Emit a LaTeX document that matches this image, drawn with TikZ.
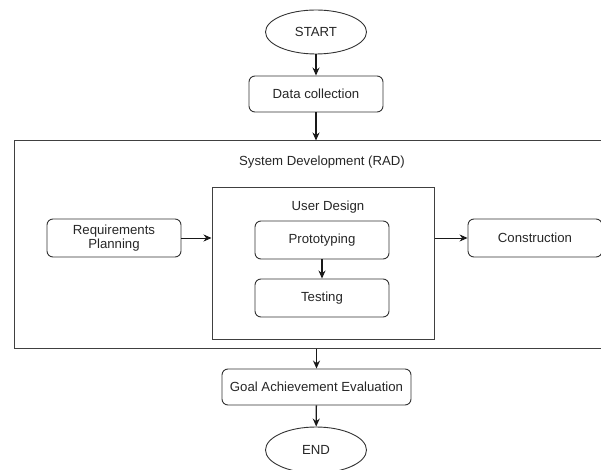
\documentclass[tikz,border=0pt]{standalone}
\usepackage{fontspec}
\setmainfont{Liberation Sans}
\usetikzlibrary{shapes.geometric,arrows.meta}

\begin{document}
\begin{tikzpicture}[x=1pt,y=-1pt,font=\fontsize{13.2}{15.5}\selectfont]
    % Node styles
    \tikzstyle{terminal} = [ellipse, draw=black!80, line width=0.9pt, minimum width=101pt, minimum height=44pt, text=black!85]
    \tikzstyle{process} = [rectangle, rounded corners=6pt, draw=black!80, line width=0.9pt, minimum width=134pt, minimum height=37pt, align=center, text=black!85]
    \tikzstyle{frame} = [rectangle, draw=black!75, line width=1pt, inner sep=0pt]
    \tikzstyle{title} = [text=black!85]
    \tikzstyle{arrow} = [-{Stealth[length=8pt,width=7pt]}, line width=1.3pt, black!90]
    \tikzstyle{thinarrow} = [arrow, line width=0.9pt]

    \useasboundingbox (0,0) rectangle (601,470);
    \clip (0,0) rectangle (601,470);

    % Frames
    \node (sysdev) at (322,244.5) [frame, minimum width=616pt, minimum height=207pt] {};
    \node (userdesign) at (323,263.5) [frame, minimum width=222pt, minimum height=151pt] {};
    \node (sysdev_title) at (322,162) [title] {System Development (RAD)};
    \node (userdesign_title) at (328,207) [title] {User Design};

    % Nodes
    \node (start) at (316,32) [terminal] {START};
    \node (data) at (316,94) [process, minimum height=36pt] {Data collection};
    \node (req) at (114,238) [process, minimum height=38pt] {Requirements\\[-2pt]Planning};
    \node (proto) at (322,240) [process, minimum height=38pt] {Prototyping};
    \node (testing) at (322,298) [process, minimum height=38pt] {Testing};
    \node (construction) at (535,238) [process, minimum height=38pt] {Construction};
    \node (goal) at (316.5,387) [process, minimum width=189pt, minimum height=36pt] {Goal Achievement Evaluation};
    \node (finish) at (316,450) [terminal, minimum height=46pt] {END};

    % Arrows
    \draw[arrow] (start) -- (data);
    \draw[arrow] (data.south) -- (data.south |- sysdev.north);
    \draw[thinarrow] (req) -- (userdesign.west |- req.east);
    \draw[arrow] (proto) -- (testing);
    \draw[thinarrow] (userdesign.east |- construction.west) -- (construction);
    \draw[arrow] (goal.north |- sysdev.south) -- (goal);
    \draw[arrow] (goal) -- (finish);

\end{tikzpicture}
\end{document}
